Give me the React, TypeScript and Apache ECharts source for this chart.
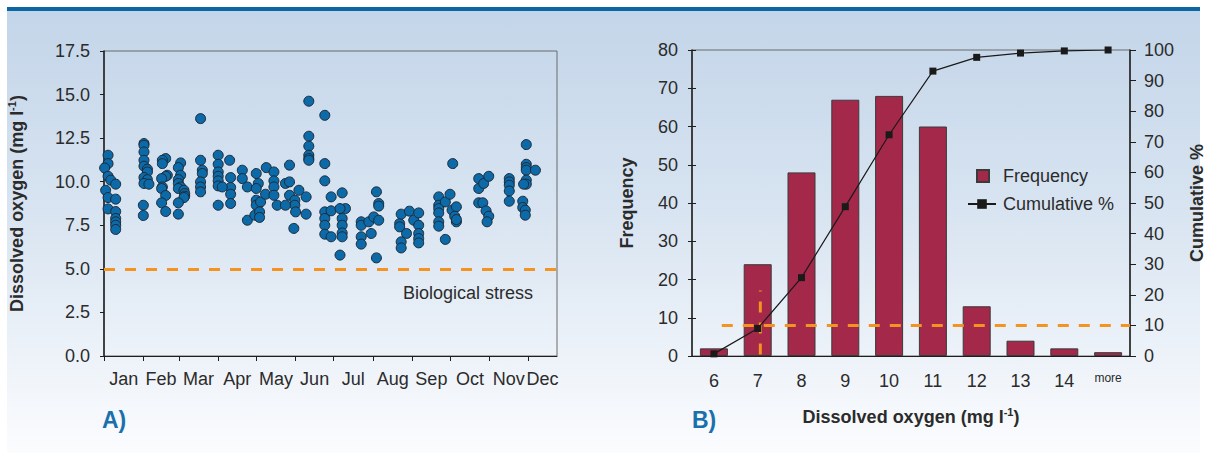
import React, { useEffect, useRef } from "react";
import * as echarts from "echarts";

// ---------- Panel A: dissolved oxygen by day of year ----------
const months = ["Jan", "Feb", "Mar", "Apr", "May", "Jun", "Jul", "Aug", "Sep", "Oct", "Nov", "Dec"];
const monthStartDays = [0, 31, 59, 90, 120, 151, 181, 212, 243, 273, 304, 334];
const monthLabelDays = [15.5, 45, 74.5, 105, 135.5, 166, 196.5, 227.5, 258, 288.5, 319, 345.5];
const dayAxisMax = 357;
const oxygenTicks = { min: 0, max: 17.5, step: 2.5 };
const stressThreshold = 5.0;

// [day of year, dissolved oxygen mg/l]
const oxygenSamples: [number, number][] = [
  // Jan
  [3.2, 11.52], [3.2, 11.04], [0.5, 10.79], [3.2, 10.31], [5.3, 10.09], [9.2, 9.86], [1.3, 9.51],
  [3.2, 9.09], [9.2, 9.0], [3.2, 8.44], [9.2, 8.29], [9.2, 7.89], [9.2, 7.7], [9.2, 7.5], [9.2, 7.26],
  // early Feb
  [31.5, 12.19], [31.5, 12.09], [31.5, 11.71], [31.5, 11.23], [31.5, 10.89], [34.2, 10.72], [34.2, 10.56],
  [31.5, 10.24], [34.2, 10.12], [31.5, 9.9], [35.4, 9.86], [31, 8.65], [31, 8.06],
  // mid Feb
  [48.6, 11.33], [46, 11.23], [46, 11.04], [49.9, 10.37], [48.6, 10.31], [45.4, 10.18], [46, 9.7],
  [45.4, 9.61], [48.6, 9.21], [45.4, 8.79], [48.6, 8.29],
  // early Mar
  [60.4, 11.08], [58.6, 10.81], [60.4, 10.37], [58.6, 10.12], [58.6, 9.9], [60.4, 9.7], [58.6, 9.61],
  [63, 9.51], [63.6, 9.32], [63.6, 9.17], [63, 9.09], [58.6, 8.79], [58.6, 8.14],
  // mid Mar
  [76.1, 13.62], [76.1, 11.23], [77.5, 10.66], [77.5, 10.47], [76.1, 9.99], [76.1, 9.7], [76.1, 9.42],
  // early Apr
  [90, 11.52], [90, 11.0], [90, 10.56], [90, 10.31], [90, 10.05], [90, 9.76], [90, 8.65], [99, 11.23],
  [99.8, 10.24], [99.8, 9.67], [99.8, 9.28], [99.8, 8.75], [93.2, 9.7],
  // late Apr
  [109, 10.66], [109, 10.18], [113, 9.7], [113, 7.79],
  // early May
  [120, 10.47], [121.6, 9.9], [120, 9.61], [120, 8.94], [120, 8.65], [123.4, 8.84], [118.9, 8.08],
  [122.6, 8.27], [122.6, 7.95],
  // mid May
  [127.9, 10.81], [133.9, 10.56], [133.9, 10.05], [133.9, 9.7], [127.3, 9.28], [133.9, 9.22], [136.5, 8.65],
  // late May / early Jun
  [146.2, 10.95], [143, 9.9], [146.2, 9.99], [146.2, 9.22], [150.4, 8.94], [150.4, 8.65], [151, 8.27],
  [143, 8.65], [153.6, 9.51], [159.3, 9.13], [159.3, 8.14], [149.6, 7.32],
  // Jun
  [161.4, 14.62], [161.4, 12.61], [161.4, 12.04], [161.4, 11.52], [161.4, 11.33], [161.4, 11.23],
  // late Jun
  [174, 13.81], [174, 11.04], [174, 10.05], [174, 8.27], [174, 7.89], [174, 7.5], [174, 6.99],
  [179, 9.13], [179, 8.33], [179, 6.84],
  // early Jul
  [187.7, 9.36], [190.3, 8.46], [186, 8.46], [187.7, 7.89], [187.7, 7.5], [187.7, 7.06], [187.7, 6.84],
  [186, 5.79],
  // late Jul
  [202.7, 7.7], [202.7, 7.5], [202.7, 6.84], [202.7, 6.42], [210.6, 7.03], [208.7, 7.7], [212.6, 7.98],
  [216.5, 7.79], [214.7, 9.42], [216.5, 8.75], [216.5, 8.6], [214.7, 5.63],
  // Aug
  [233, 7.6], [233, 7.41], [234.2, 8.14], [238.4, 7.03], [234.2, 6.55], [234.2, 6.2], [240.7, 8.31],
  [244.1, 7.79], [248, 8.21], [248, 7.5], [248, 7.03], [248, 6.74], [248, 6.49],
  // Sep
  [263.8, 9.13], [263.8, 8.65], [263.8, 8.46], [263.8, 8.21], [263.8, 7.7], [263.8, 7.45], [269, 8.84],
  [269, 6.69],
  // early Oct
  [272.7, 9.28], [274.8, 11.04], [274.3, 8.37], [277.7, 8.56], [276.4, 8.02], [277.7, 7.7], [277.7, 7.83],
  // late Oct
  [295.3, 10.18], [295.3, 9.61], [299.2, 9.9], [303.2, 10.31], [295.3, 8.79], [298.5, 8.79], [301.1, 8.33],
  [303.2, 8.02], [301.9, 7.7],
  // Nov
  [319.4, 10.18], [319.4, 9.99], [319.4, 9.8], [319.4, 9.47], [319.4, 8.88],
  // Dec
  [332.8, 12.13], [332.8, 11.0], [332.8, 10.81], [332.8, 10.66], [332.8, 10.09], [332.8, 9.86],
  [330.7, 9.86], [340, 10.66], [330, 8.88], [330, 8.52], [332, 8.37], [332, 8.08],
];

// ---------- Panel B: frequency distribution ----------
const doBins = ["6", "7", "8", "9", "10", "11", "12", "13", "14", "more"];
const frequency = [2, 24, 48, 67, 68, 60, 13, 4, 2, 1];
const cumulativePct = [0.7, 9.0, 25.6, 48.8, 72.3, 93.1, 97.6, 99.0, 99.7, 100];
const freqTicks = { min: 0, max: 80, step: 10 };
const pctTicks = { min: 0, max: 100, step: 10 };
// reference lines, x in bin units (0..10), y in cumulative %
const pctThresholdLine: [number, number][] = [[0.68, 10], [10, 10]];
const crossingLine: [number, number][] = [[1.56, 0.5], [1.56, 21.4]];

const FONT = "'Liberation Sans', Arial, Helvetica, sans-serif";
const TXT = "#2b2b2b";
const ORANGE = "#f39322";
const AXIS = "#1e1e1e";

const nameRich = {
  b: { fontSize: 18, fontWeight: "bold", color: TXT, fontFamily: FONT, lineHeight: 22 },
  s: { fontSize: 11, fontWeight: "bold", color: TXT, fontFamily: FONT, lineHeight: 13, verticalAlign: "top" },
};

export default function App() {
  const ref = useRef<HTMLDivElement>(null);
  useEffect(() => {
    if (!ref.current) return;
    const chart = echarts.init(ref.current, undefined, { renderer: "svg" });
    const labelStyle = { fontSize: 18, color: TXT, fontFamily: FONT };
    const option: any = {
      animation: false,
      textStyle: { fontFamily: FONT },
      graphic: [
        {
          type: "rect", z: -10, silent: true,
          shape: { x: 7, y: 11, width: 1193, height: 442 },
          style: {
            fill: new echarts.graphic.LinearGradient(0, 0, 0, 1, [
              { offset: 0, color: "#c3d5e9" },
              { offset: 0.45, color: "#d8e4f1" },
              { offset: 1, color: "#fbfcfe" },
            ]),
          },
        },
        { type: "rect", z: -9, silent: true, shape: { x: 7, y: 7, width: 1193, height: 4 }, style: { fill: "#0b66a3" } },
        {
          type: "text", x: 533, y: 293, silent: true,
          style: { text: "Biological stress", fontSize: 18, fontFamily: FONT, fill: TXT, align: "right", verticalAlign: "middle" },
        },
      ],
      title: [
        { text: "A)", left: 102, top: 408, padding: 0, textStyle: { color: "#1a70ad", fontSize: 23, fontWeight: "bold", fontFamily: FONT } },
        { text: "B)", left: 692, top: 408, padding: 0, textStyle: { color: "#1a70ad", fontSize: 23, fontWeight: "bold", fontFamily: FONT } },
      ],
      legend: [
        {
          data: [{ name: "Frequency", icon: "rect" }], left: 971, top: 162, itemWidth: 12, itemHeight: 12,
          textStyle: { ...labelStyle, padding: [0, 0, 0, 9] },
        },
        {
          data: [{ name: "Cumulative %" }], left: 962, top: 190, itemWidth: 28, itemHeight: 12,
          textStyle: { ...labelStyle, padding: [0, 0, 0, 2] },
        },
      ],
      grid: [
        { left: 104, top: 51, width: 453, height: 305, show: true, borderColor: "#6a6a6a", borderWidth: 1, backgroundColor: "transparent" },
        { left: 692, top: 50, width: 444, height: 306, show: true, borderColor: "#6a6a6a", borderWidth: 1, backgroundColor: "transparent" },
        { left: 692, top: 50, width: 444, height: 306 },
      ],
      xAxis: [
        {
          gridIndex: 0, type: "value", min: 0, max: dayAxisMax,
          axisLine: { lineStyle: { color: AXIS, width: 1 } },
          axisTick: { customValues: monthStartDays, length: 5, lineStyle: { color: AXIS } },
          axisLabel: {
            ...labelStyle, margin: 14, customValues: monthLabelDays,
            formatter: (v: number) => {
              const i = monthLabelDays.findIndex((d) => Math.abs(d - v) < 0.01);
              return i >= 0 ? months[i] : "";
            },
          },
          splitLine: { show: false },
        },
        {
          gridIndex: 1, type: "category", data: doBins,
          axisLine: { lineStyle: { color: AXIS, width: 1 } },
          axisTick: { length: 4, interval: 0, lineStyle: { color: AXIS } },
          axisLabel: {
            ...labelStyle, margin: 16, interval: 0,
            formatter: (v: string) => (v === "more" ? "{m|more}" : v),
            rich: { m: { fontSize: 12, color: TXT, fontFamily: FONT } },
          },
          name: "{b|Dissolved oxygen (mg l}{s|-1}{b|)}", nameLocation: "middle", nameGap: 50,
          nameTextStyle: { rich: nameRich },
        },
        { gridIndex: 1, type: "value", min: 0, max: doBins.length, show: false },
        {
          gridIndex: 2, type: "category", data: doBins,
          axisLine: { show: false }, axisLabel: { show: false },
          axisTick: { inside: true, length: 4, interval: 0, lineStyle: { color: AXIS } },
        },
      ],
      yAxis: [
        {
          gridIndex: 0, type: "value", min: oxygenTicks.min, max: oxygenTicks.max, interval: oxygenTicks.step,
          axisLine: { show: true, lineStyle: { color: AXIS, width: 1.5 } },
          axisTick: { show: true, length: 4, lineStyle: { color: AXIS } },
          axisLabel: { ...labelStyle, margin: 14, formatter: (v: number) => v.toFixed(1) },
          splitLine: { show: false },
          name: "{b|Dissolved oxygen (mg l}{s|-1}{b|)}", nameLocation: "middle", nameGap: 76, nameRotate: 90,
          nameTextStyle: { rich: nameRich },
        },
        {
          gridIndex: 1, type: "value", position: "left", min: freqTicks.min, max: freqTicks.max, interval: freqTicks.step,
          axisLine: { show: true, lineStyle: { color: AXIS, width: 1.5 } },
          axisTick: { show: true, length: 4, lineStyle: { color: AXIS } },
          axisLabel: { ...labelStyle, margin: 14 },
          splitLine: { show: false },
          name: "Frequency", nameLocation: "middle", nameGap: 56, nameRotate: 90,
          nameTextStyle: { fontSize: 18, fontWeight: "bold", color: TXT, fontFamily: FONT },
        },
        {
          gridIndex: 1, type: "value", position: "right", min: pctTicks.min, max: pctTicks.max, interval: pctTicks.step,
          axisLine: { show: true, lineStyle: { color: AXIS, width: 1.5 } },
          axisTick: { show: true, length: 4, lineStyle: { color: AXIS } },
          axisLabel: { ...labelStyle, margin: 14 },
          splitLine: { show: false },
          name: "Cumulative %", nameLocation: "middle", nameGap: 58, nameRotate: 90,
          nameTextStyle: { fontSize: 18, fontWeight: "bold", color: TXT, fontFamily: FONT },
        },
        {
          gridIndex: 2, type: "value", position: "left", min: freqTicks.min, max: freqTicks.max, interval: freqTicks.step,
          axisLine: { show: false }, axisLabel: { show: false }, splitLine: { show: false },
          axisTick: { show: true, inside: true, length: 4, lineStyle: { color: AXIS } },
        },
        {
          gridIndex: 2, type: "value", position: "right", min: pctTicks.min, max: pctTicks.max, interval: pctTicks.step,
          axisLine: { show: false }, axisLabel: { show: false }, splitLine: { show: false },
          axisTick: { show: true, inside: true, length: 4, lineStyle: { color: AXIS } },
        },
      ],
      series: [
        {
          type: "scatter", xAxisIndex: 0, yAxisIndex: 0, data: oxygenSamples, symbolSize: 10,
          itemStyle: { color: "#0d6aa8", borderColor: "#1b2a38", borderWidth: 1, opacity: 1 },
          markLine: {
            silent: true, symbol: "none", label: { show: false },
            lineStyle: { color: ORANGE, type: [11, 10], width: 3 },
            data: [{ yAxis: stressThreshold }],
          },
        },
        {
          name: "Frequency", type: "bar", xAxisIndex: 1, yAxisIndex: 1, data: frequency, barWidth: 28,
          itemStyle: { color: "#a3284a", borderColor: "#3b3b3b", borderWidth: 1 },
        },
        {
          type: "line", xAxisIndex: 2, yAxisIndex: 2, data: pctThresholdLine, showSymbol: false, z: 4,
          lineStyle: { color: ORANGE, type: [11, 10], width: 3 },
        },
        {
          type: "line", xAxisIndex: 2, yAxisIndex: 2, data: crossingLine, showSymbol: false, z: 4,
          lineStyle: { color: ORANGE, type: [11, 10], width: 3 },
        },
        {
          name: "Cumulative %", type: "line", xAxisIndex: 1, yAxisIndex: 2, data: cumulativePct, z: 5,
          symbol: "rect", symbolSize: 7,
          lineStyle: { color: "#1a1a1a", width: 1.2 }, itemStyle: { color: "#1a1a1a" },
        },
      ],
    };
    chart.setOption(option);
    return () => chart.dispose();
  }, []);
  return <div ref={ref} style={{ position: "absolute", left: 0, top: 0, width: 1207, height: 453 }} />;
}
